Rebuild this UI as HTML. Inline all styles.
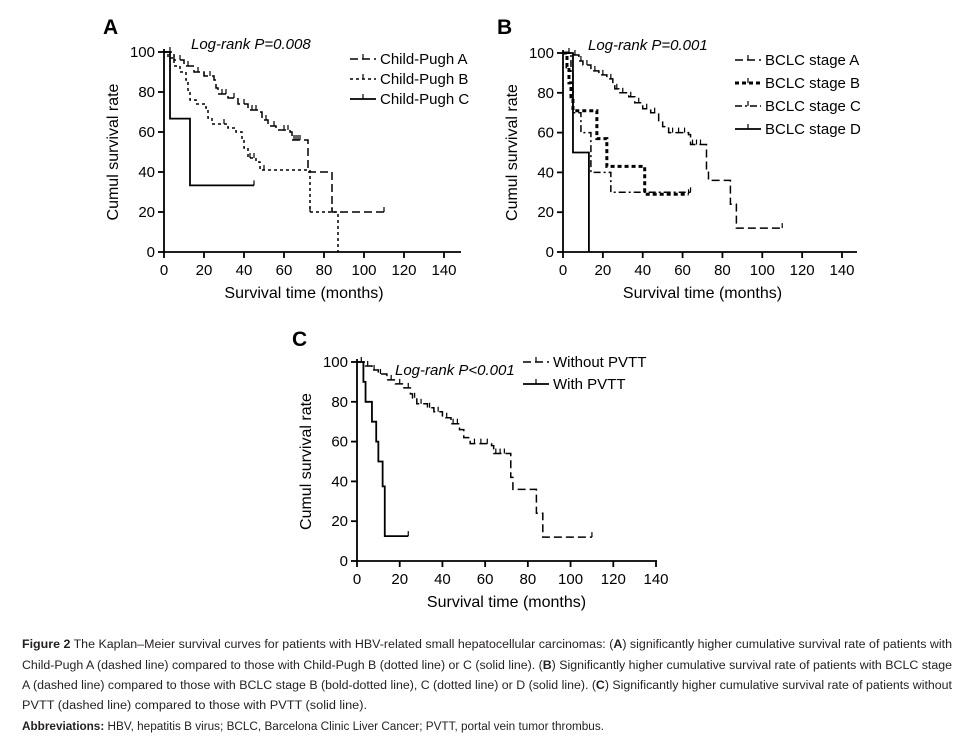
<!DOCTYPE html>
<html><head><meta charset="utf-8"><style>
html,body{margin:0;padding:0;background:#fff;}
svg{display:block;font-family:"Liberation Sans",Arial,sans-serif;}
</style></head><body>
<svg id="fig" width="980" height="739" viewBox="0 0 980 739">
<g id="caption" font-size="11.5" fill="#231f20">
<text x="22" y="648" textLength="930" lengthAdjust="spacingAndGlyphs"><tspan font-weight="bold">Figure 2</tspan> The Kaplan–Meier survival curves for patients with HBV-related small hepatocellular carcinomas: (<tspan font-weight="bold">A</tspan>) significantly higher cumulative survival rate of patients with</text>
<text x="22" y="669" textLength="930" lengthAdjust="spacingAndGlyphs">Child-Pugh A (dashed line) compared to those with Child-Pugh B (dotted line) or C (solid line). (<tspan font-weight="bold">B</tspan>) Significantly higher cumulative survival rate of patients with BCLC stage</text>
<text x="22" y="689" textLength="930" lengthAdjust="spacingAndGlyphs">A (dashed line) compared to those with BCLC stage B (bold-dotted line), C (dotted line) or D (solid line). (<tspan font-weight="bold">C</tspan>) Significantly higher cumulative survival rate of patients without</text>
<text x="22" y="709" textLength="345" lengthAdjust="spacingAndGlyphs">PVTT (dashed line) compared to those with PVTT (solid line).</text>
<text x="22" y="730" textLength="582" lengthAdjust="spacingAndGlyphs"><tspan font-weight="bold">Abbreviations:</tspan> HBV, hepatitis B virus; BCLC, Barcelona Clinic Liver Cancer; PVTT, portal vein tumor thrombus.</text>
</g>
</svg>
<script>
// ---- data ----
const xTicks = [0,20,40,60,80,100,120,140];
const yTicks = [0,20,40,60,80,100];
// Panel A
const cpA_t = [0,5,10,15,20,25,26,27,32,37,42,47,49,52,56,63,64,72,84,110];
const cpA_s = [100,96,93,90,88,86,82,79,77,74,71,70,66,63,61,60,56,40,20,20];
const cpA_c = [3,8,12,17,20,23,29,31,35,40,44,46,51,55,60,62,65,66,67,68,110];
const cpB_t = [0,2,5,8,11,12,13,16,21,22,24,32,36,39,40,42,46,48,73,87];
const cpB_s = [100,97,93,90,86,80,76,74,72,67,64,62,60,56,52,47,45,41,20,0];
const cpB_c = [30,43,45,50,73,84];
const cpC_t = [0,3,13,45];
const cpC_s = [100,66.7,33.3,33.3];
const cpC_c = [45];
// Panel B
const bA_t = [0,5,8,10,14,18,22,25,26,28,33,36,40,44,48,50,53,63,64,72,73,84,87,110];
const bA_s = [100,99,96,94,91,89,87,84,82,80,78,75,72,70,66,63,60,59,54,41,36,24,12,12];
const bA_c = [3,6,9,12,16,20,24,27,30,34,38,42,46,55,58,61,65,67,69,110];
const bB_t = [0,2,3,4,5,17,22,41,63];
const bB_s = [100,93,85,78,71,57,43,29,29];
const bB_c = [63];
const bC_t = [0,4,5,9,14,24,64];
const bC_s = [100,90,70,60,40,30,30];
const bC_c = [64];
const bD_t = [0,5,13];
const bD_s = [100,50,0];
const bD_c = [];
// Panel C
const cA_t = [0,4,7,10,14,18,22,25,26,28,33,36,40,44,48,50,53,63,64,72,73,84,87,110];
const cA_s = [100,98,96,94,91,89,87,84,82,79,77,75,72,69,66,62,59,58,54,42,36,24,12,12];
const cA_c = [2,5,8,11,16,20,24,27,30,34,38,42,45,47,55,58,61,65,67,69,110];
const cB_t = [0,3,4,7,9,10,12,13,24];
const cB_s = [100,90,80,70,60,50,37.5,12.5,12.5];
const cB_c = [24];

const NS = 'http://www.w3.org/2000/svg';
const svg = document.getElementById('fig');
function mk(tag, attrs, parent){
  const e = document.createElementNS(NS, tag);
  for (const k in attrs) e.setAttribute(k, attrs[k]);
  (parent||svg).appendChild(e);
  return e;
}
const styles = {
  dash:   {w:1.5, d:'8,4'},
  dot:    {w:1.5, d:'3,3'},
  bold:   {w:3,   d:'4,3'},
  dashdot:{w:1.5, d:'7,3,2,3'},
  solid:  {w:1.8, d:'none'}
};

function panel(p){
  const g = mk('g', {});
  
  
  const X = v => p.x0 + (v/140)*(p.x1 - p.x0);
  const Y = v => p.y0 - (v/100)*(p.y0 - p.y1);
  const L = mk('text', {x:p.lx, y:p.ly, 'font-size':21, 'font-weight':'bold'}, g);
  L.textContent = p.letter;
  
  
  const ax = mk('g', {stroke:'#000', 'stroke-width':1.8, fill:'none'}, g);
  
  
  mk('line', {x1:p.x0, y1:Y(100)-3, x2:p.x0, y2:p.y0}, ax);
  mk('line', {x1:p.x0, y1:p.y0, x2:p.xEnd, y2:p.y0}, ax);
  yTicks.forEach(v=>{
    mk('line', {x1:p.x0-6, y1:Y(v), x2:p.x0, y2:Y(v)}, ax);
    const t = mk('text', {x:p.x0-9, y:Y(v)+5, 'font-size':15, 'text-anchor':'end'}, g);
    t.textContent = v;
    
    
  });
  xTicks.forEach(v=>{
    mk('line', {x1:X(v), y1:p.y0, x2:X(v), y2:p.y0+6}, ax);
    const t = mk('text', {x:X(v), y:p.y0+23, 'font-size':15, 'text-anchor':'middle'}, g);
    t.textContent = v;
    
    
  });
  const yt = mk('text', {x:0, y:0, 'font-size':16, 'text-anchor':'middle', transform:`translate(${p.x0-46},${(p.y0+Y(100))/2}) rotate(-90)`}, g);
  yt.textContent = 'Cumul survival rate';
  
  
  const xt = mk('text', {x:X(70), y:p.y0+46, 'font-size':16, 'text-anchor':'middle'}, g);
  xt.textContent = 'Survival time (months)';
  
  
  const lr = mk('text', {x:p.logx, y:p.logy, 'font-size':15, 'font-style':'italic'}, g);
  lr.textContent = p.logText;
  
  
  p.series.forEach((s, i)=>{
    const st = styles[s.style];
    let d = `M${X(s.t[0])},${Y(s.s[0])}`;
    for (let k=1;k<s.t.length;k++){
      d += ` H${X(s.t[k])} V${Y(s.s[k])}`;
    }
    const path = mk('path', {d, fill:'none', stroke:'#000', 'stroke-width':st.w, 'stroke-dasharray':st.d}, g);
    
    
    s.c.forEach(ct=>{
      let val = s.s[0];
      for (let k=0;k<s.t.length;k++){ if (s.t[k] <= ct) val = s.s[k]; }
      const cm = mk('line', {x1:X(ct), y1:Y(val), x2:X(ct), y2:Y(val)-5, stroke:'#000', 'stroke-width':1.2}, g);
      
      
    });
    const ly = p.legY + i*p.legDy;
    const lg = mk('g', {}, g);
    
    
    mk('line', {x1:p.legX, y1:ly-5, x2:p.legX+26, y2:ly-5, stroke:'#000', 'stroke-width':st.w, 'stroke-dasharray':st.d}, lg);
    mk('line', {x1:p.legX+13, y1:ly-5, x2:p.legX+13, y2:ly-10, stroke:'#000', 'stroke-width':1.2}, lg);
    const lt = mk('text', {x:p.legX+30, y:ly, 'font-size':15}, lg);
    lt.textContent = s.label;
  });
}

panel({name:'panel-a-child-pugh', letter:'A', lx:103, ly:34, x0:164, x1:444, xEnd:461, y0:252, y1:52,
  logx:191, logy:49, logText:'Log-rank P=0.008', legX:350, legY:64, legDy:20,
  series:[
    {key:'child-pugh-a', label:'Child-Pugh A', style:'dash', t:cpA_t, s:cpA_s, c:cpA_c},
    {key:'child-pugh-b', label:'Child-Pugh B', style:'dot', t:cpB_t, s:cpB_s, c:cpB_c},
    {key:'child-pugh-c', label:'Child-Pugh C', style:'solid', t:cpC_t, s:cpC_s, c:cpC_c}
  ]});
panel({name:'panel-b-bclc', letter:'B', lx:497, ly:34, x0:563, x1:842, xEnd:857, y0:252, y1:53,
  logx:588, logy:50, logText:'Log-rank P=0.001', legX:735, legY:65, legDy:23,
  series:[
    {key:'bclc-a', label:'BCLC stage A', style:'dash', t:bA_t, s:bA_s, c:bA_c},
    {key:'bclc-b', label:'BCLC stage B', style:'bold', t:bB_t, s:bB_s, c:bB_c},
    {key:'bclc-c', label:'BCLC stage C', style:'dashdot', t:bC_t, s:bC_s, c:bC_c},
    {key:'bclc-d', label:'BCLC stage D', style:'solid', t:bD_t, s:bD_s, c:bD_c}
  ]});
panel({name:'panel-c-pvtt', letter:'C', lx:292, ly:346, x0:357, x1:656, xEnd:657, y0:561, y1:362,
  logx:395, logy:375, logText:'Log-rank P<0.001', legX:523, legY:367, legDy:22,
  series:[
    {key:'without-pvtt', label:'Without PVTT', style:'dash', t:cA_t, s:cA_s, c:cA_c},
    {key:'with-pvtt', label:'With PVTT', style:'solid', t:cB_t, s:cB_s, c:cB_c}
  ]});
</script>
</body></html>
